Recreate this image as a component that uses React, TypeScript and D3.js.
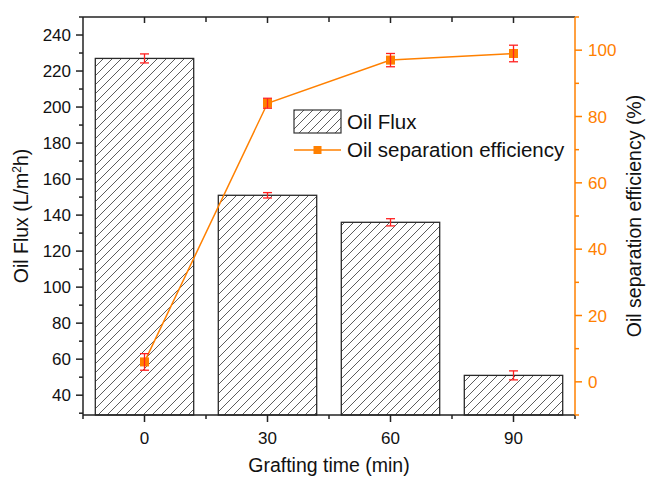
import React from "react";
import * as d3 from "d3";

const categories = [0, 30, 60, 90];
const fluxValues = [227, 151, 136, 51];
const fluxErrors = [2.5, 1.5, 2, 2.5];
const efficiencyValues = [6, 84, 97, 99];
const efficiencyErrors = [2.5, 1.5, 2, 2.5];
const xMajorTicks = [0, 30, 60, 90];
const xMinorTicks = [-15, 15, 45, 75, 105];
const leftMajorTicks = [40, 60, 80, 100, 120, 140, 160, 180, 200, 220, 240];
const leftMinorTicks = [30, 50, 70, 90, 110, 130, 150, 170, 190, 210, 230, 250];
const rightMajorTicks = [0, 20, 40, 60, 80, 100];
const rightMinorTicks = [-10, 10, 30, 50, 70, 90, 110];

const W = 646;
const H = 478;
const L = 83, R = 575, T = 17, B = 415;
const ORANGE = "#FF8000";
const RED = "#FF2020";
const FONT = "Liberation Sans, Arial, sans-serif";

export default function App() {
  const x = d3.scaleLinear().domain([-15, 105]).range([L, R]);
  const yL = d3.scaleLinear().domain([29, 250]).range([B, T]);
  const yR = d3.scaleLinear().domain([-10, 110]).range([B, T]);
  const barHalf = (x(12) - x(0));
  const line = d3
    .line<number>()
    .x((_, i) => x(categories[i]))
    .y((d) => yR(d));

  return (
    <svg width={W} height={H} style={{ position: "absolute", left: 0, top: 0, background: "#fff" }} fontFamily={FONT}>
      <defs>
        <pattern id="hatch" patternUnits="userSpaceOnUse" width={9} height={9}>
          <rect width={9} height={9} fill="#fff" />
          <path d="M0,9 L9,0 M-2,2 L2,-2 M7,11 L11,7" stroke="#333" strokeWidth={0.8} />
        </pattern>
      </defs>
      {/* bars */}
      {categories.map((c, i) => (
        <rect
          key={"bar" + i}
          x={x(c) - barHalf}
          y={yL(fluxValues[i])}
          width={barHalf * 2}
          height={B - yL(fluxValues[i])}
          fill="url(#hatch)"
          stroke="#2a2a2a"
          strokeWidth={1.3}
        />
      ))}
      {/* flux error bars */}
      {categories.map((c, i) => {
        const cx = x(c);
        const y1 = yL(fluxValues[i] + fluxErrors[i]);
        const y2 = yL(fluxValues[i] - fluxErrors[i]);
        return (
          <g key={"fe" + i} stroke={RED} strokeWidth={1.3}>
            <line x1={cx} x2={cx} y1={y1} y2={y2} />
            <line x1={cx - 4.5} x2={cx + 4.5} y1={y1} y2={y1} />
            <line x1={cx - 4.5} x2={cx + 4.5} y1={y2} y2={y2} />
          </g>
        );
      })}
      {/* efficiency line */}
      <path d={line(efficiencyValues) || ""} fill="none" stroke={ORANGE} strokeWidth={1.5} />
      {categories.map((c, i) => {
        const cx = x(c);
        const y1 = yR(efficiencyValues[i] + efficiencyErrors[i]);
        const y2 = yR(efficiencyValues[i] - efficiencyErrors[i]);
        return (
          <g key={"ee" + i}>
            <rect x={cx - 4.5} y={yR(efficiencyValues[i]) - 4.5} width={9} height={9} fill={ORANGE} />
            <g stroke={RED} strokeWidth={1.3}>
              <line x1={cx} x2={cx} y1={y1} y2={y2} />
              <line x1={cx - 4.5} x2={cx + 4.5} y1={y1} y2={y1} />
              <line x1={cx - 4.5} x2={cx + 4.5} y1={y2} y2={y2} />
            </g>
          </g>
        );
      })}
      {/* frame */}
      <line x1={L} x2={R} y1={T} y2={T} stroke="#222" strokeWidth={1.5} />
      <line x1={L} x2={R} y1={B} y2={B} stroke="#222" strokeWidth={1.5} />
      <line x1={L} x2={L} y1={T} y2={B} stroke="#222" strokeWidth={1.5} />
      <line x1={R} x2={R} y1={T} y2={B + 0.75} stroke={ORANGE} strokeWidth={1.5} />
      {/* bottom axis ticks */}
      {xMajorTicks.map((t) => (
        <g key={"xM" + t}>
          <line x1={x(t)} x2={x(t)} y1={B} y2={B + 7} stroke="#222" strokeWidth={1.5} />
          <line x1={x(t)} x2={x(t)} y1={T} y2={T + 6} stroke="#222" strokeWidth={1.5} />
          <text x={x(t)} y={B + 29} textAnchor="middle" fontSize={17} fill="#111">{t}</text>
        </g>
      ))}
      {xMinorTicks.map((t) => (
        <g key={"xm" + t}>
          <line x1={x(t)} x2={x(t)} y1={B} y2={B + 4} stroke="#222" strokeWidth={1.5} />
          {t > -15 && t < 105 ? (
            <line x1={x(t)} x2={x(t)} y1={T} y2={T + 5} stroke="#222" strokeWidth={1.5} />
          ) : null}
        </g>
      ))}
      {/* left axis ticks */}
      {leftMajorTicks.map((t) => (
        <g key={"lM" + t}>
          <line x1={L - 7} x2={L} y1={yL(t)} y2={yL(t)} stroke="#222" strokeWidth={1.5} />
          <text x={L - 12} y={yL(t) + 6} textAnchor="end" fontSize={17} fill="#111">{t}</text>
        </g>
      ))}
      {leftMinorTicks.map((t) => (
        <line key={"lm" + t} x1={L - 4} x2={L} y1={yL(t)} y2={yL(t)} stroke="#222" strokeWidth={1.5} />
      ))}
      {/* right axis ticks */}
      {rightMajorTicks.map((t) => (
        <g key={"rM" + t}>
          <line x1={R} x2={R + 7} y1={yR(t)} y2={yR(t)} stroke={ORANGE} strokeWidth={1.5} />
          <text x={R + 13} y={yR(t) + 6} textAnchor="start" fontSize={17} fill={ORANGE}>{t}</text>
        </g>
      ))}
      {rightMinorTicks.map((t) => (
        <line key={"rm" + t} x1={R} x2={R + 4} y1={yR(t)} y2={yR(t)} stroke={ORANGE} strokeWidth={1.5} />
      ))}
      {/* axis titles */}
      <text x={(L + R) / 2} y={472} textAnchor="middle" fontSize={19.5} fill="#111">Grafting time (min)</text>
      <text transform={`translate(28, ${(T + B) / 2}) rotate(-90)`} textAnchor="middle" fontSize={19.5} fill="#111">
        Oil Flux (L/m<tspan dy={-7} fontSize={12}>2</tspan><tspan dy={7}>h)</tspan>
      </text>
      <text transform={`translate(641, ${(T + B) / 2}) rotate(-90)`} textAnchor="middle" fontSize={19.5} fill="#111">
        Oil separation efficiency (%)
      </text>
      {/* legend */}
      <rect x={294} y={110} width={47} height={23} fill="url(#hatch)" stroke="#333" strokeWidth={1.2} />
      <text x={347} y={129} fontSize={20.5} fill="#111">Oil Flux</text>
      <line x1={294} x2={341} y1={150} y2={150} stroke={ORANGE} strokeWidth={1.5} />
      <rect x={313.5} y={146} width={8} height={8} fill={ORANGE} />
      <text x={347} y={157} fontSize={20.5} fill="#111">Oil separation efficiency</text>
    </svg>
  );
}
